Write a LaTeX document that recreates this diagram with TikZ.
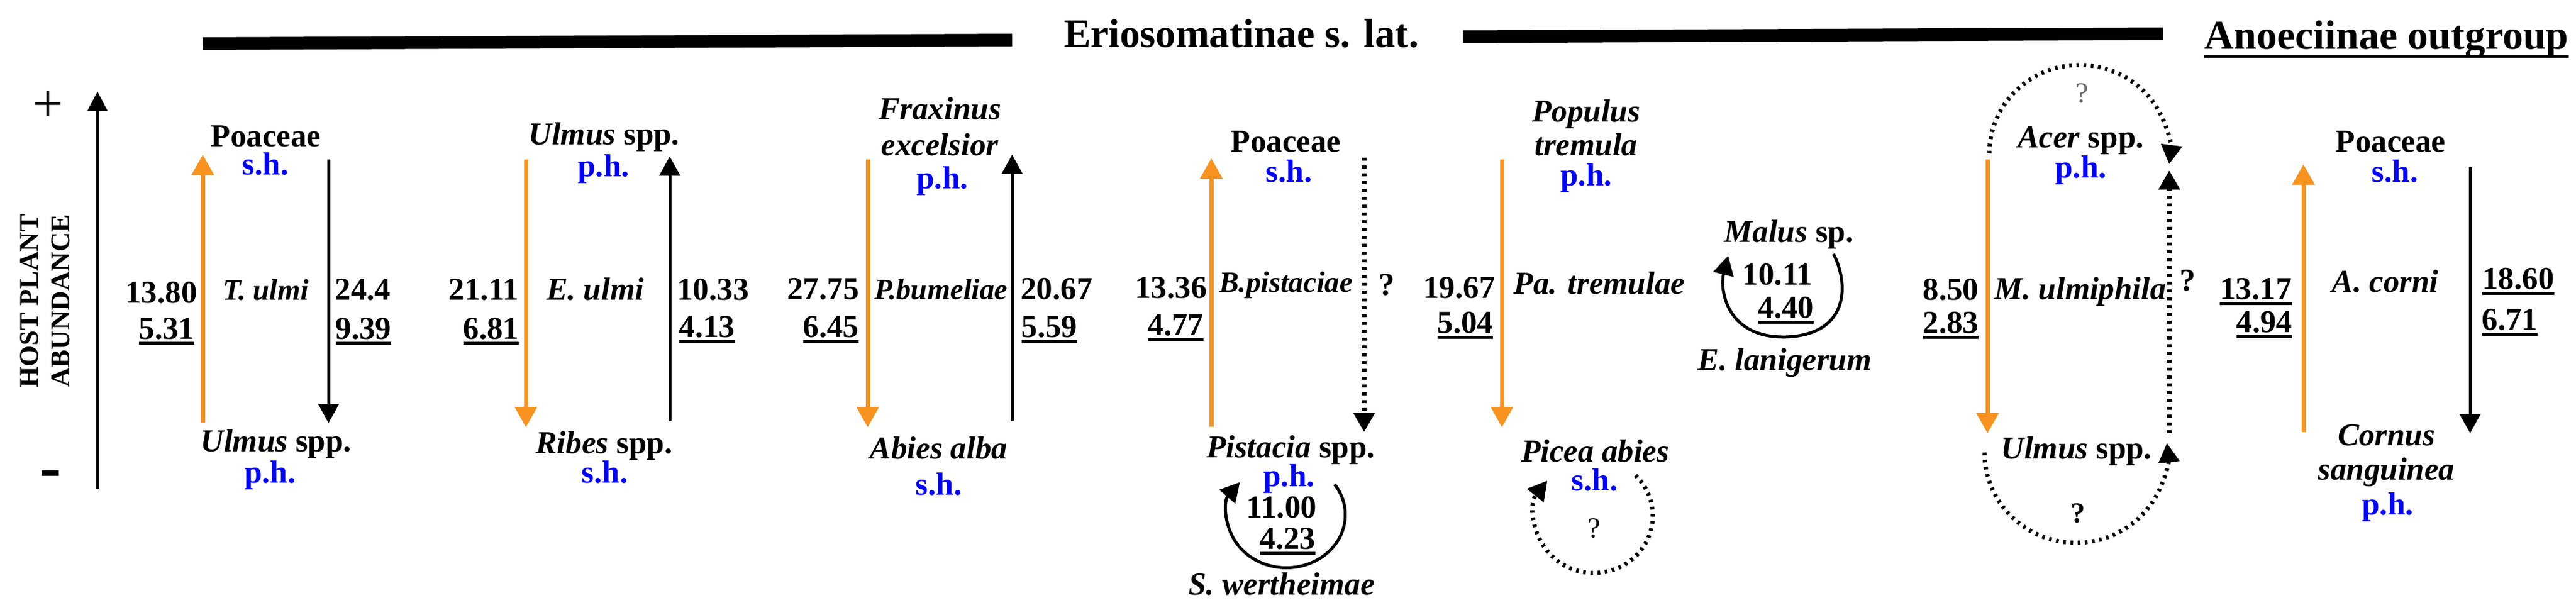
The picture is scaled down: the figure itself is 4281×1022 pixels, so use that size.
\documentclass[tikz,border=0pt]{standalone}
\usepackage{fontspec}
\setmainfont{Liberation Serif}
\usetikzlibrary{arrows.meta}
\definecolor{orng}{RGB}{247,147,30}
\definecolor{hblue}{RGB}{0,0,255}
\definecolor{qgray}{RGB}{105,105,105}
\newcommand\ulz[1]{\sbox0{#1}\rlap{\rule[-5pt]{\wd0}{2.5pt}}\usebox0}
\newcommand\ulo[1]{\sbox0{#1}\rlap{\rule[-7pt]{\wd0}{2pt}}\usebox0}
\begin{document}
\begin{tikzpicture}[x=0.5pt,y=-0.5pt,
 lbl/.style={inner sep=0pt,anchor=base,font=\bfseries\fontsize{26.5}{30}\selectfont},
 lbli/.style={lbl,font=\bfseries\itshape\fontsize{26.5}{30}\selectfont},
 lblsm/.style={lbl,font=\bfseries\itshape\fontsize{24.5}{28}\selectfont},
 hst/.style={lbl,text=hblue},
 qm/.style={lbl,font=\fontsize{24}{28}\selectfont},
 oarr/.style={draw=orng,line width=3.5pt,-{Triangle[width=18pt,length=17pt]}},
 karr/.style={draw=black,line width=2.5pt,-{Triangle[width=17pt,length=16pt]}},
 darr/.style={draw=black,line width=4pt,dash pattern=on 2.5pt off 4pt,-{Triangle[width=17pt,length=16pt]}},
 darc/.style={darr,line width=3.5pt,dash pattern=on 2.2pt off 3.8pt},
]
\useasboundingbox (0,0) rectangle (4281,1022);

% ---------- titles ----------
\coordinate (b1l) at (337,72.5); \coordinate (b1r) at (1682,66.5);
\coordinate (b2l) at (2431,61);  \coordinate (b2r) at (3595,56);
\draw[line width=10.5pt] (b1l) -- (b1r);
\draw[line width=10.5pt] (b2l) -- (b2r);
\node[lbl,font=\bfseries\fontsize{33.5}{38}\selectfont] (ttl) at (2063,79) {Eriosomatinae s. lat.};
\node[lbl,font=\bfseries\fontsize{34}{38}\selectfont] (outg) at (3966,82) {\ulo{Anoeciinae outgroup}};

% ---------- axis ----------
\coordinate (axb) at (162,812); \coordinate (axt) at (162,152);
\draw[line width=2.5pt,-{Triangle[width=16pt,length=16pt]}] (axb) -- (axt);
\node[inner sep=0pt,font=\fontsize{45}{50}\selectfont] (plus) at (80,177) {+};
\node[inner sep=0pt,font=\bfseries\fontsize{55}{60}\selectfont] (minus) at (84,797) {-};
\node[inner sep=0pt,rotate=90,align=center,font=\bfseries\fontsize{22.5}{26}\selectfont] (host) at (75,500) {HOST PLANT\\ABUNDANCE};

% ---------- column 1: T. ulmi ----------
\coordinate (c1ob) at (337,702); \coordinate (c1ot) at (337,257);
\coordinate (c1kt) at (546,265); \coordinate (c1kb) at (546,703);
\draw[oarr] (c1ob) -- (c1ot);
\draw[karr] (c1kt) -- (c1kb);
\node[lbl] (c1top) at (442,243) {Poaceae};
\node[hst] (c1toph) at (441,290) {s.h.};
\node[lbl] (c1n1) at (268,503) {13.80};
\node[lbl] (c1n2) at (277,563) {\ulz{5.31}};
\node[lblsm] (c1sp) at (442,498) {T. ulmi};
\node[lbl] (c1n3) at (603,498) {24.4};
\node[lbl] (c1n4) at (604,563) {\ulz{9.39}};
\node[lbl] (c1bot) at (459,750) {\textit{Ulmus} spp.};
\node[hst] (c1both) at (449,802) {p.h.};

% ---------- column 2: E. ulmi ----------
\coordinate (c2ot) at (874,265); \coordinate (c2ob) at (874,710);
\coordinate (c2kb) at (1113,699); \coordinate (c2kt) at (1113,260);
\draw[oarr] (c2ot) -- (c2ob);
\draw[karr] (c2kb) -- (c2kt);
\node[lbl] (c2top) at (1004,240) {\textit{Ulmus} spp.};
\node[hst] (c2toph) at (1003,293) {p.h.};
\node[lbl] (c2n1) at (804,498) {21.11};
\node[lbl] (c2n2) at (816,563) {\ulz{6.81}};
\node[lbli] (c2sp) at (989,498) {E. ulmi};
\node[lbl] (c2n3) at (1185,498) {10.33};
\node[lbl] (c2n4) at (1175,560) {\ulz{4.13}};
\node[lbl] (c2bot) at (1004,753) {\textit{Ribes} spp.};
\node[hst] (c2both) at (1005,802) {s.h.};

% ---------- column 3: P. bumeliae ----------
\coordinate (c3ot) at (1442,265); \coordinate (c3ob) at (1442,710);
\coordinate (c3kb) at (1682,699); \coordinate (c3kt) at (1682,257);
\draw[oarr] (c3ot) -- (c3ob);
\draw[karr] (c3kb) -- (c3kt);
\node[lbli] (c3top) at (1562,198) {Fraxinus};
\node[lbli] (c3top2) at (1562,258) {excelsior};
\node[hst] (c3toph) at (1566,313) {p.h.};
\node[lbl] (c3n1) at (1368,497) {27.75};
\node[lbl] (c3n2) at (1381,560) {\ulz{6.45}};
\node[lblsm] (c3sp) at (1564,497) {P.bumeliae};
\node[lbl] (c3n3) at (1756,497) {20.67};
\node[lbl] (c3n4) at (1744,560) {\ulz{5.59}};
\node[lbli] (c3bot) at (1560,762) {Abies alba};
\node[hst] (c3both) at (1560,822) {s.h.};

% ---------- column 4: B. pistaciae / S. wertheimae ----------
\coordinate (c4ob) at (2013,709); \coordinate (c4ot) at (2013,263);
\coordinate (c4dt) at (2267,262); \coordinate (c4db) at (2267,718);
\draw[oarr] (c4ob) -- (c4ot);
\draw[darr] (c4dt) -- (c4db);
\node[lbl] (c4top) at (2137,252) {Poaceae};
\node[hst] (c4toph) at (2142,302) {s.h.};
\node[lbl] (c4n1) at (1946,495) {13.36};
\node[lbl] (c4n2) at (1954,557) {\ulz{4.77}};
\node[lblsm] (c4sp) at (2137,485) {B.pistaciae};
\node[lbl] (c4q) at (2305,490) {?};
\node[lbl] (c4bot) at (2145,760) {\textit{Pistacia} spp.};
\node[hst] (c4both) at (2142,808) {p.h.};
\coordinate (l1s) at (2218,805);
\draw[karr] (l1s) arc[start angle=-35,end angle=218,x radius=98,y radius=88];
\node[lbl] (c4n3) at (2130,860) {11.00};
\node[lbl] (c4n4) at (2140,912) {\ulz{4.23}};
\node[lbli] (c4sp2) at (2130,988) {S. wertheimae};

% ---------- column 5: Pa. tremulae ----------
\coordinate (c5ot) at (2496,265); \coordinate (c5ob) at (2496,710);
\draw[oarr] (c5ot) -- (c5ob);
\node[lbli] (c5top) at (2636,202) {Populus};
\node[lbli] (c5top2) at (2636,258) {tremula};
\node[hst] (c5toph) at (2636,308) {p.h.};
\node[lbl] (c5n1) at (2425,495) {19.67};
\node[lbl] (c5n2) at (2435,553) {\ulz{5.04}};
\node[lbli] (c5sp) at (2658,488) {Pa. tremulae};
\node[lbli] (c5bot) at (2651,767) {Picea abies};
\node[hst] (c5both) at (2650,815) {s.h.};
\coordinate (l2s) at (2718,790);
\draw[darc] (l2s) arc[start angle=-45,end angle=218,x radius=98,y radius=95];
\node[qm] (c5q) at (2649,893) {?};

% ---------- column 6: E. lanigerum ----------
\node[lbl] (c6top) at (2973,402) {\textit{Malus} sp.};
\coordinate (l3s) at (3047,422); \coordinate (l3e) at (2872,425);
\draw[karr] (l3s) .. controls (3072,470) and (3075,556) .. (2968,560)
  .. controls (2868,562) and (2858,480) .. (l3e);
\node[lbl] (c6n1) at (2954,473) {10.11};
\node[lbl] (c6n2) at (2968,528) {\ulz{4.40}};
\node[lbli] (c6sp) at (2966,615) {E. lanigerum};

% ---------- column 7: M. ulmiphila ----------
\coordinate (c7ot) at (3303,265); \coordinate (c7ob) at (3303,720);
\draw[oarr] (c7ot) -- (c7ob);
\coordinate (l4s) at (3306,255);
\draw[darc] (l4s) arc[start angle=-180,end angle=7,x radius=150,y radius=147];
\node[qm,text=qgray] (c7q1) at (3460,170) {?};
\node[lbl] (c7top) at (3458,245) {\textit{Acer} spp.};
\node[hst] (c7toph) at (3458,295) {p.h.};
\coordinate (c7db) at (3605,720); \coordinate (c7dt) at (3605,283);
\draw[darr] (c7db) -- (c7dt);
\node[lbl] (c7q2) at (3636,483) {?};
\node[lbl] (c7n1) at (3242,498) {8.50};
\node[lbl] (c7n2) at (3242,553) {\ulz{2.83}};
\node[lbli] (c7sp) at (3457,497) {M. ulmiphila};
\node[lbl] (c7bot) at (3451,762) {\textit{Ulmus} spp.};
\coordinate (l5s) at (3298,752);
\draw[darc] (l5s) arc[start angle=180,end angle=-6,x radius=152,y radius=150];
\node[qm,font=\bfseries\fontsize{24}{28}\selectfont] (c7q3) at (3453,868) {?};

% ---------- column 8: A. corni ----------
\coordinate (c8ob) at (3828,718); \coordinate (c8ot) at (3828,273);
\coordinate (c8kt) at (4105,278); \coordinate (c8kb) at (4105,720);
\draw[oarr] (c8ob) -- (c8ot);
\draw[karr] (c8kt) -- (c8kb);
\node[lbl] (c8top) at (3973,252) {Poaceae};
\node[hst] (c8toph) at (3980,302) {s.h.};
\node[lbl] (c8n1) at (3749,497) {\ulz{13.17}};
\node[lbl] (c8n2) at (3763,552) {\ulz{4.94}};
\node[lbli] (c8sp) at (3964,485) {A. corni};
\node[lbl] (c8n3) at (4185,480) {\ulz{18.60}};
\node[lbl] (c8n4) at (4171,548) {\ulz{6.71}};
\node[lbli] (c8bot) at (3966,740) {Cornus};
\node[lbli] (c8bot2) at (3966,797) {sanguinea};
\node[hst] (c8both) at (3968,855) {p.h.};
\end{tikzpicture}
\end{document}
